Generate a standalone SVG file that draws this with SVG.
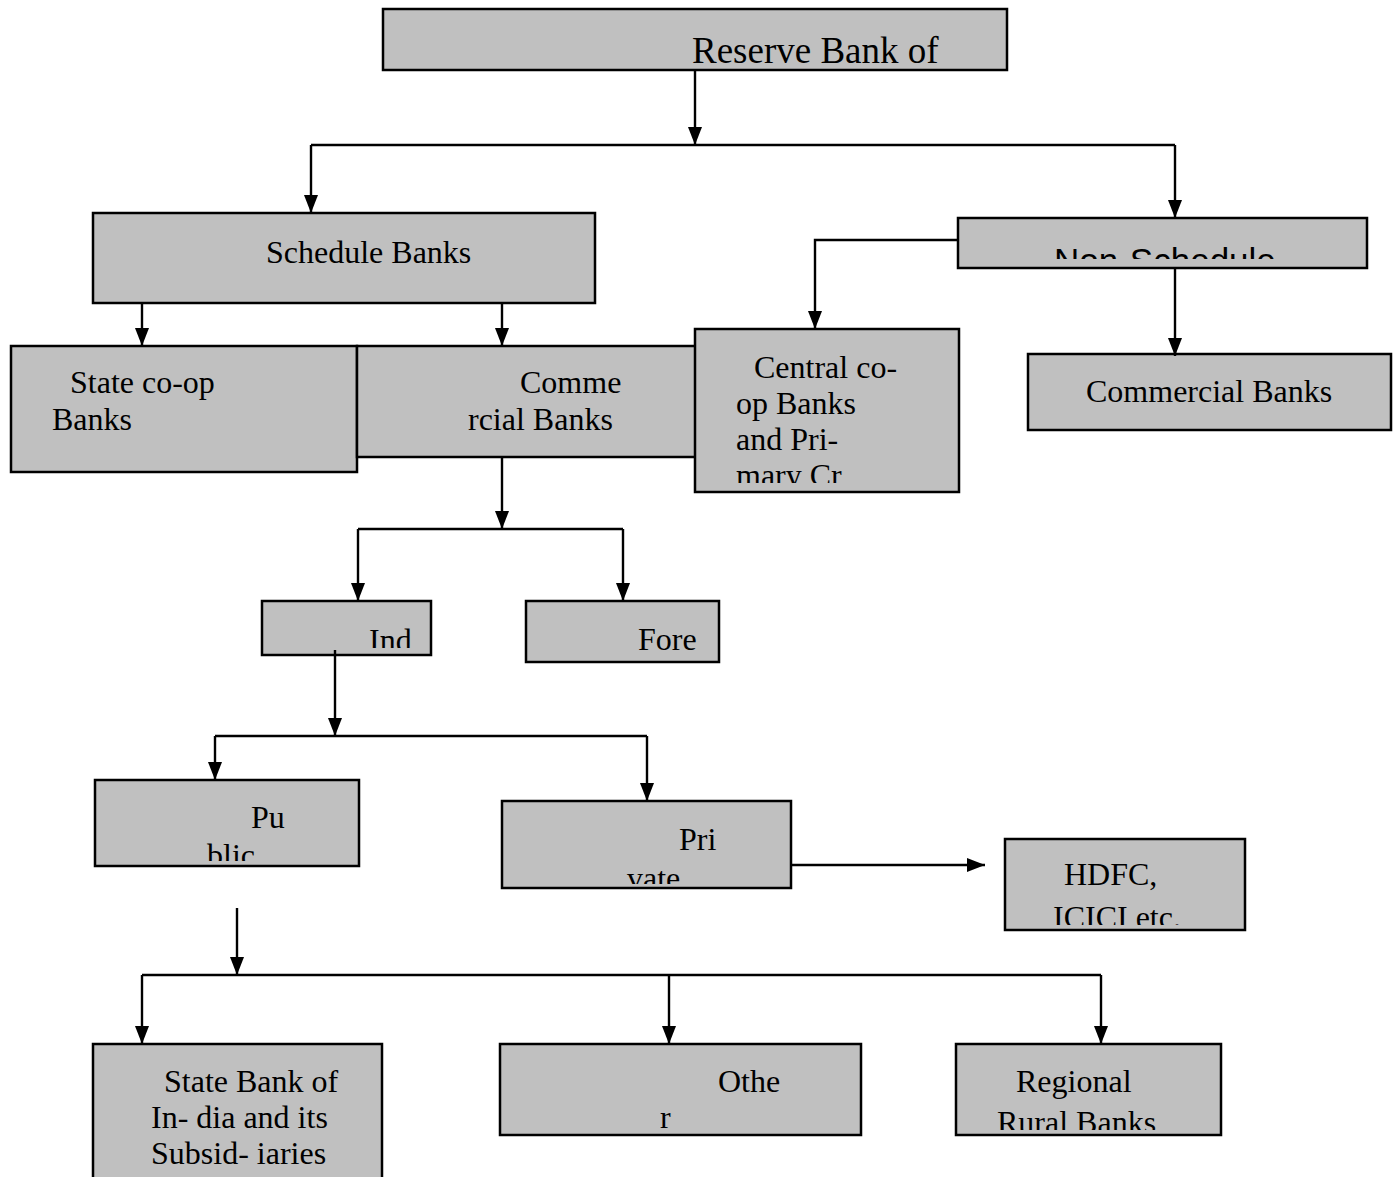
<svg xmlns="http://www.w3.org/2000/svg" width="1400" height="1177" viewBox="0 0 1400 1177">
<style>
.box{fill:#c0c0c0;stroke:#000;stroke-width:2.5}
.t{font-family:"Liberation Serif","Times New Roman",serif;font-size:32px;fill:#000}
.s{font-family:"Liberation Sans",Arial,sans-serif;font-size:35px;fill:#000}
.c{fill:none;stroke:#000;stroke-width:2.4}
</style>
<defs>
<marker id="ah" markerWidth="18" markerHeight="14" refX="18" refY="7" orient="auto" markerUnits="userSpaceOnUse" viewBox="0 0 18 14">
<path d="M0,0 L18,7 L0,14 Z" fill="#000"/>
</marker>
<clipPath id="cNon"><rect x="958" y="218" width="409" height="41"/></clipPath>
<clipPath id="cCen"><rect x="695" y="329" width="264" height="154"/></clipPath>
<clipPath id="cInd"><rect x="262" y="601" width="169" height="47"/></clipPath>
<clipPath id="cPu"><rect x="95" y="780" width="264" height="81"/></clipPath>
<clipPath id="cPri"><rect x="502" y="801" width="289" height="83"/></clipPath>
<clipPath id="cHd"><rect x="1005" y="839" width="240" height="86"/></clipPath>
<clipPath id="cReg"><rect x="956" y="1044" width="265" height="86"/></clipPath>
</defs>

<g id="rbi">
<rect class="box" x="383" y="9" width="624" height="61"/>
<text class="t" x="692" y="63" style="font-size:37px">Reserve Bank of</text>
</g>
<g id="schedule">
<rect class="box" x="93" y="213" width="502" height="90"/>
<text class="t" x="266" y="263">Schedule Banks</text>
</g>
<g id="nonschedule">
<rect class="box" x="958" y="218" width="409" height="50"/>
<text class="s" x="1054" y="273" clip-path="url(#cNon)">Non-Schedule</text>
</g>
<g id="statecoop">
<rect class="box" x="11" y="346" width="346" height="126"/>
<text class="t" x="70" y="393">State co-op</text>
<text class="t" x="52" y="430">Banks</text>
</g>
<g id="commsched">
<rect class="box" x="357" y="346" width="340" height="111"/>
<text class="t" x="520" y="393">Comme</text>
<text class="t" x="468" y="430">rcial Banks</text>
</g>
<g id="centralcoop">
<rect class="box" x="695" y="329" width="264" height="163"/>
<g clip-path="url(#cCen)">
<text class="t" x="754" y="378">Central co-</text>
<text class="t" x="736" y="414">op Banks</text>
<text class="t" x="736" y="450">and Pri-</text>
<text class="t" x="736" y="486">mary Cr</text>
</g>
</g>
<g id="commnon">
<rect class="box" x="1028" y="354" width="363" height="76"/>
<text class="t" x="1086" y="402">Commercial Banks</text>
</g>
<g id="ind">
<rect class="box" x="262" y="601" width="169" height="54"/>
<text class="t" x="369" y="651" clip-path="url(#cInd)">Ind</text>
</g>
<g id="fore">
<rect class="box" x="526" y="601" width="193" height="61"/>
<text class="t" x="638" y="650">Fore</text>
</g>
<g id="public">
<rect class="box" x="95" y="780" width="264" height="86"/>
<g clip-path="url(#cPu)">
<text class="t" x="251" y="828">Pu</text>
<text class="t" x="207" y="866">blic</text>
</g>
</g>
<g id="private">
<rect class="box" x="502" y="801" width="289" height="87"/>
<g clip-path="url(#cPri)">
<text class="t" x="679" y="850">Pri</text>
<text class="t" x="627" y="889">vate</text>
</g>
</g>
<g id="hdfc">
<rect class="box" x="1005" y="839" width="240" height="91"/>
<g clip-path="url(#cHd)">
<text class="t" x="1064" y="885">HDFC,</text>
<text class="t" x="1053" y="928">ICICI etc.</text>
</g>
</g>
<g id="sbi">
<rect class="box" x="93" y="1044" width="289" height="140"/>
<text class="t" x="164" y="1092">State Bank of</text>
<text class="t" x="151" y="1128">In- dia and its</text>
<text class="t" x="151" y="1164">Subsid- iaries</text>
</g>
<g id="other">
<rect class="box" x="500" y="1044" width="361" height="91"/>
<text class="t" x="718" y="1092">Othe</text>
<text class="t" x="660" y="1128">r</text>
</g>
<g id="rrb">
<rect class="box" x="956" y="1044" width="265" height="91"/>
<g clip-path="url(#cReg)">
<text class="t" x="1016" y="1092">Regional</text>
<text class="t" x="997" y="1133">Rural Banks</text>
</g>
</g>

<g id="connectors">
<line class="c" x1="695" y1="70" x2="695" y2="145" marker-end="url(#ah)"/>
<line class="c" x1="311" y1="145" x2="1175" y2="145"/>
<line class="c" x1="311" y1="145" x2="311" y2="213" marker-end="url(#ah)"/>
<line class="c" x1="1175" y1="145" x2="1175" y2="218" marker-end="url(#ah)"/>
<line class="c" x1="142" y1="303" x2="142" y2="346" marker-end="url(#ah)"/>
<line class="c" x1="502" y1="303" x2="502" y2="346" marker-end="url(#ah)"/>
<polyline class="c" points="958,240 815,240 815,329" marker-end="url(#ah)"/>
<line class="c" x1="1175" y1="268" x2="1175" y2="356" marker-end="url(#ah)"/>
<line class="c" x1="502" y1="457" x2="502" y2="529" marker-end="url(#ah)"/>
<line class="c" x1="358" y1="529" x2="623" y2="529"/>
<line class="c" x1="358" y1="529" x2="358" y2="601" marker-end="url(#ah)"/>
<line class="c" x1="623" y1="529" x2="623" y2="601" marker-end="url(#ah)"/>
<line class="c" x1="335" y1="650" x2="335" y2="736" marker-end="url(#ah)"/>
<line class="c" x1="215" y1="736" x2="647" y2="736"/>
<line class="c" x1="215" y1="736" x2="215" y2="780" marker-end="url(#ah)"/>
<line class="c" x1="647" y1="736" x2="647" y2="801" marker-end="url(#ah)"/>
<line class="c" x1="791" y1="865" x2="985" y2="865" marker-end="url(#ah)"/>
<line class="c" x1="237" y1="908" x2="237" y2="975" marker-end="url(#ah)"/>
<line class="c" x1="142" y1="975" x2="1101" y2="975"/>
<line class="c" x1="142" y1="975" x2="142" y2="1044" marker-end="url(#ah)"/>
<line class="c" x1="669" y1="975" x2="669" y2="1044" marker-end="url(#ah)"/>
<line class="c" x1="1101" y1="975" x2="1101" y2="1044" marker-end="url(#ah)"/>
</g>
</svg>
